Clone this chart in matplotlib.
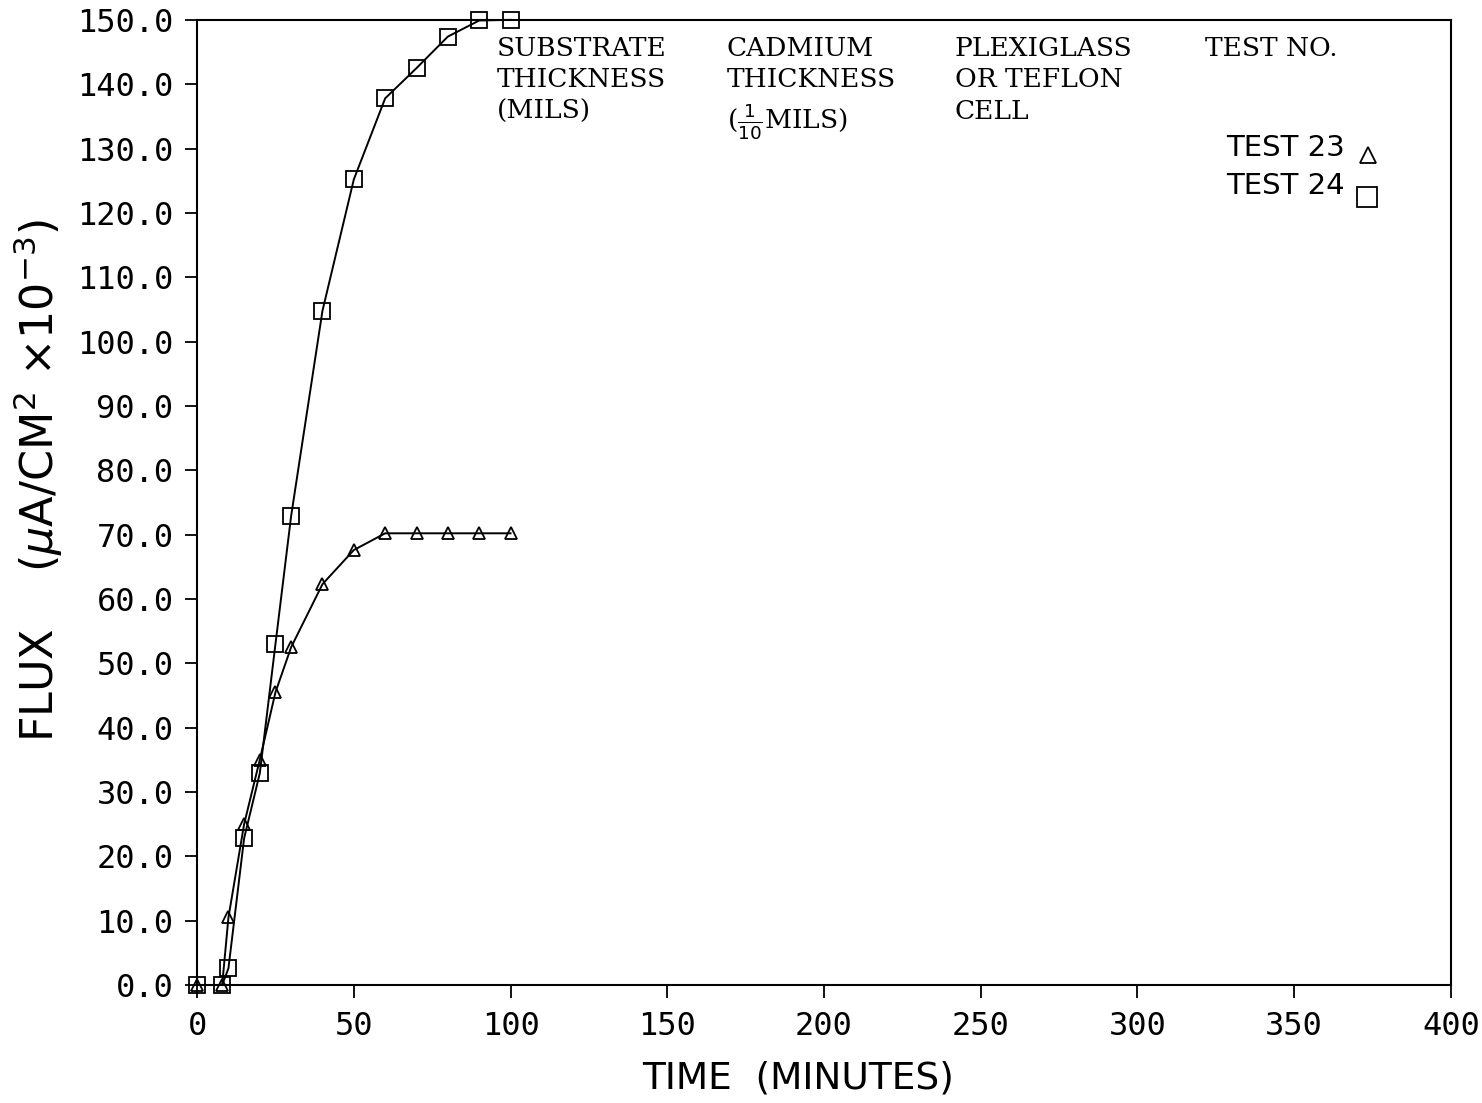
import matplotlib
matplotlib.use("Agg")
import matplotlib.pyplot as plt
from matplotlib.ticker import FormatStrFormatter

# Data
time_23 = [0, 8, 10, 15, 20, 25, 30, 40, 50, 60, 70, 80, 90, 100]
flux_23 = [0.0, 0.0, 10.5, 25.0, 35.0, 45.5, 52.5, 62.3, 67.6, 70.2, 70.2, 70.2, 70.2, 70.2]

time_24 = [0, 8, 10, 15, 20, 25, 30, 40, 50, 60, 70, 80, 90, 100]
flux_24 = [0.0, 0.0, 2.6, 22.8, 32.9, 53.0, 72.9, 104.8, 125.2, 137.8, 142.5, 147.4, 149.9, 150.0]

x_ticks = [0, 50, 100, 150, 200, 250, 300, 350, 400]
y_ticks = [0, 10, 20, 30, 40, 50, 60, 70, 80, 90, 100, 110, 120, 130, 140, 150]

header_cols = [
    "SUBSTRATE\nTHICKNESS\n(MILS)",
    "CADMIUM\nTHICKNESS\n($\\frac{1}{10}$MILS)",
    "PLEXIGLASS\nOR TEFLON\nCELL",
    "TEST NO.",
]
legend_labels = ["TEST 23", "TEST 24"]

fig = plt.figure(figsize=(14.82, 11.03), dpi=100)
ax = fig.add_axes([0.133, 0.107, 0.846, 0.875])

ax.plot(time_23, flux_23, color="black", lw=1.4, marker="^", ms=8,
        mfc="none", mec="black", mew=1.3, clip_on=False)
ax.plot(time_24, flux_24, color="black", lw=1.4, marker="s", ms=12,
        mfc="none", mec="black", mew=1.3, clip_on=False)

ax.set_xlim(0, 400)
ax.set_ylim(0, 150)
ax.set_xticks(x_ticks)
ax.set_yticks(y_ticks)
ax.yaxis.set_major_formatter(FormatStrFormatter("%.1f"))
ax.tick_params(direction="out", length=9, width=1.3, labelsize=23, pad=8)
ax.tick_params(axis="x", pad=10)
for lab in ax.get_xticklabels() + ax.get_yticklabels():
    lab.set_family("DejaVu Sans Mono")
for s in ax.spines.values():
    s.set_linewidth(1.5)

ax.set_xlabel("TIME  (MINUTES)", fontsize=27)
ax.xaxis.set_label_coords(0.479, -0.078)
ax.set_ylabel("FLUX    ($\\mu$A/CM$^2$ $\\times\\mathit{10}^{-3}$)", fontsize=32)
ax.yaxis.set_label_coords(-0.105, 0.523)

# Header table text
col_x = [497, 727, 955, 1205]
W, H = 1482, 1103
for cx, txt in zip(col_x, header_cols):
    fig.text(cx / W, 1 - 36 / H, txt, family="DejaVu Serif", fontsize=19,
             va="top", ha="left", linespacing=1.32)

# Legend entries
fig.text(1345 / W, 1 - 148 / H, legend_labels[0], fontsize=21, ha="right", va="center")
fig.text(1345 / W, 1 - 186 / H, legend_labels[1], fontsize=21, ha="right", va="center")
fig.lines.append(plt.Line2D([1368 / W], [1 - 155 / H], transform=fig.transFigure,
                            marker="^", ms=11, mfc="none", mec="black", mew=1.3, ls="none"))
fig.lines.append(plt.Line2D([1367 / W], [1 - 197 / H], transform=fig.transFigure,
                            marker="s", ms=14, mfc="none", mec="black", mew=1.3, ls="none"))

fig.savefig("out.png", dpi=100, facecolor="white")
